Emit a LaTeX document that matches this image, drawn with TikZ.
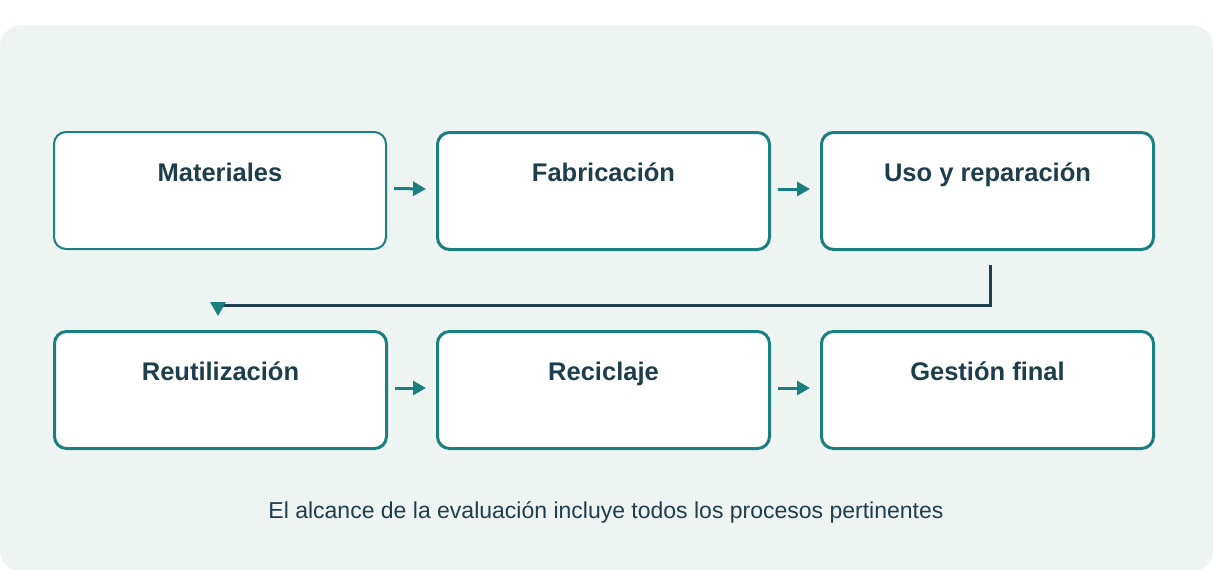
\documentclass[tikz,border=0pt]{standalone}
\usepackage{fontspec}
\setmainfont{Liberation Sans}
\usetikzlibrary{positioning,arrows.meta}
\definecolor{tealline}{HTML}{1B7F80}
\definecolor{ink}{HTML}{1D3E4A}
\definecolor{panel}{HTML}{EEF4F2}
\tikzset{
  stage/.style={rectangle,rounded corners=12pt,draw=tealline,line width=3pt,fill=white,
    minimum width=332pt,minimum height=117pt,anchor=north west},
  flow/.style={draw=tealline,line width=3pt,-{Triangle[length=13pt,width=14pt]}},
  lbl/.style={anchor=north,yshift=-28pt,font=\fontsize{25.5}{30}\selectfont\bfseries,text=ink}
}
\begin{document}
\begin{tikzpicture}[x=1pt,y=-1pt]
  \useasboundingbox (0,0) rectangle (1213,570);
  \fill[panel,rounded corners=22pt] (0,25) rectangle (1213,572);
  \node[stage,line width=2pt,label={[lbl]north:Materiales}] (mat) at (53,131) {};
  \node[stage,label={[lbl]north:Fabricación}] (fab) at (436,131) {};
  \node[stage,label={[lbl]north:Uso y reparación}] (uso) at (820,131) {};
  \node[stage,label={[lbl]north:Reutilización}] (reu) at (53,330) {};
  \node[stage,label={[lbl]north:Reciclaje}] (rec) at (436,330) {};
  \node[stage,label={[lbl]north:Gestión final}] (ges) at (820,330) {};
  \draw[flow] ([xshift=7pt,yshift=2pt]mat.east) -- ([xshift=-10pt,yshift=2pt]fab.west);
  \draw[flow] ([xshift=7pt,yshift=2pt]fab.east) -- ([xshift=-10pt,yshift=2pt]uso.west);
  \draw[flow] ([xshift=7pt,yshift=2pt]reu.east) -- ([xshift=-10pt,yshift=2pt]rec.west);
  \draw[flow] ([xshift=7pt,yshift=2pt]rec.east) -- ([xshift=-10pt,yshift=2pt]ges.west);
  % return from the first row to the second
  \coordinate (back) at (218,305);
  \draw[ink,line width=3pt] ([xshift=3pt,yshift=-14pt]uso.south) |- (back);
  \fill[tealline] (210,302) -- (226,302) -- (218,316) -- cycle;
  \node[text=ink,font=\fontsize{23}{27}\selectfont] (note) at (606,512) {El alcance de la evaluación incluye todos los procesos pertinentes};
\end{tikzpicture}
\end{document}
